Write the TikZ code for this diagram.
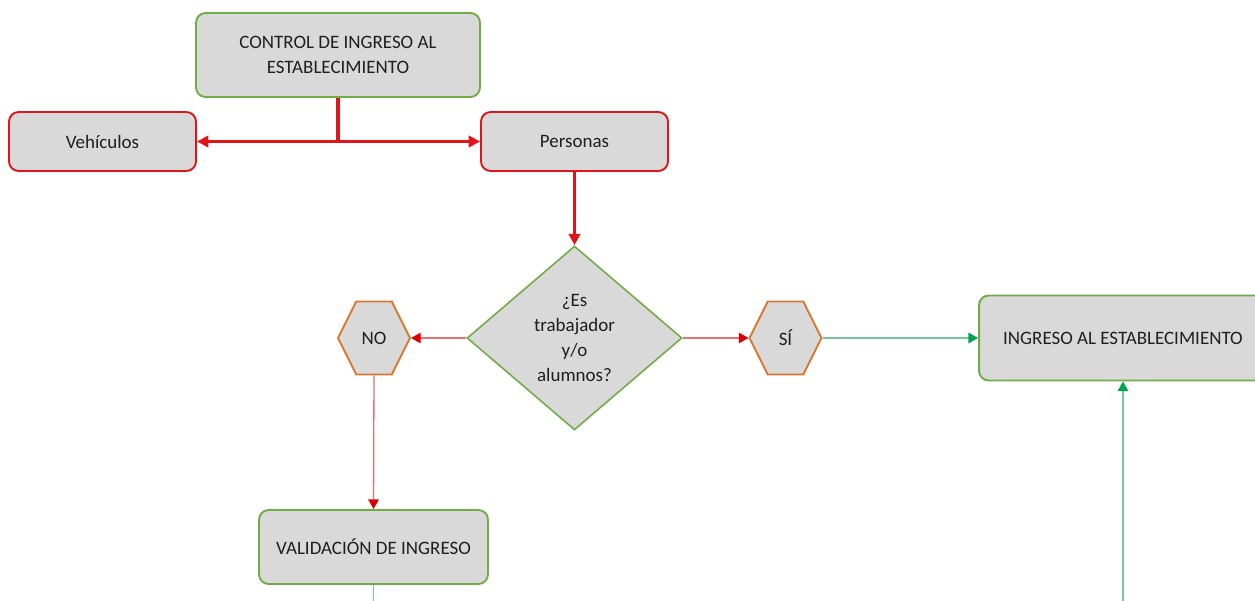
\documentclass[tikz,border=0pt]{standalone}
\usepackage{fontspec}
\setmainfont{Carlito}
\usetikzlibrary{arrows.meta,shapes.geometric,shapes.symbols}
\definecolor{boxgray}{HTML}{D9D9D9}
\definecolor{boxgreen}{HTML}{70AD47}
\definecolor{boxred}{HTML}{E0151B}
\definecolor{hexorange}{HTML}{D9772F}
\definecolor{linered}{HTML}{E87070}
\definecolor{tipred}{HTML}{E00000}
\definecolor{linegreen}{HTML}{76C898}
\definecolor{tipgreen}{HTML}{00A550}
\definecolor{txt}{HTML}{1F1F1F}
\begin{document}
\begin{tikzpicture}[x=0.02cm,y=-0.02cm,
  font=\fontsize{10.8}{14.2}\selectfont,
  basebox/.style={fill=boxgray,line width=1.1pt,rounded corners=5.5pt,align=center,text=txt,inner sep=2pt},
  gbox/.style={basebox,draw=boxgreen},
  rbox/.style={basebox,draw=boxred},
  decision/.style={shape=diamond,draw=boxgreen,line width=0.9pt,fill=boxgray,align=center,text=txt,inner sep=0pt,aspect=1.17,minimum width=4.3cm,minimum height=3.68cm},
  hexa/.style={shape=signal,signal to=west and east,signal pointer angle=127,draw=hexorange,line width=1.1pt,fill=boxgray,text=txt,inner sep=0pt,minimum width=1.44cm,minimum height=1.46cm},
  thickred/.style={draw=boxred,line width=1.9pt},
  thickarrow/.style={thickred,-{Triangle[length=6.5pt,width=6.5pt]}},
  thinred/.style={draw=linered,line width=0.75pt,-{Triangle[length=5.5pt,width=6pt,color=tipred]}},
  thingreen/.style={draw=linegreen,line width=0.75pt,-{Triangle[length=5.5pt,width=6pt,color=tipgreen]}},
  plaingreen/.style={draw=linegreen,line width=0.75pt}]
\useasboundingbox (0,0) rectangle (1255,601);
\clip (0,0) rectangle (1255,601);

\node[gbox,minimum width=5.68cm,minimum height=1.68cm] (ctrl) at (338,55) {CONTROL DE INGRESO AL\\ESTABLECIMIENTO};
\node[rbox,minimum width=3.74cm,minimum height=1.18cm] (veh) at (102.5,141.5) {Vehículos};
\node[rbox,minimum width=3.74cm,minimum height=1.18cm] (per) at (574.5,141.5) {Personas};
\node[decision] (dec) at (574.5,338) {¿Es\\trabajador\\y/o\\alumnos?};
\node[hexa] (no) at (374,338) {NO};
\node[hexa] (si) at (785.5,338) {SÍ};
\node[gbox,minimum width=5.76cm,minimum height=1.7cm] (ing) at (1123,338) {INGRESO AL ESTABLECIMIENTO};
\node[gbox,minimum width=4.58cm,minimum height=1.48cm] (val) at (373.5,547) {VALIDACIÓN DE INGRESO};

\coordinate (j) at (ctrl.south |- veh.east);
\draw[thickred] (ctrl.south) -- (j);
\draw[thickarrow] (j) -- (veh.east);
\draw[thickarrow] (j) -- (per.west);
\draw[thickarrow] (per.south) -- (dec.north);
\draw[thinred] (dec.west) -- (no.east);
\draw[thinred] (dec.east) -- (si.west);
\draw[thingreen] (si.east) -- (ing.west);
\draw[thinred] (no.south) -- (val.north);
\coordinate (vout) at (373.5,620);
\draw[plaingreen] (val.south) -- (vout);
\coordinate (iin) at (1123,620);
\draw[thingreen] (iin) -- (ing.south);
\end{tikzpicture}
\end{document}
